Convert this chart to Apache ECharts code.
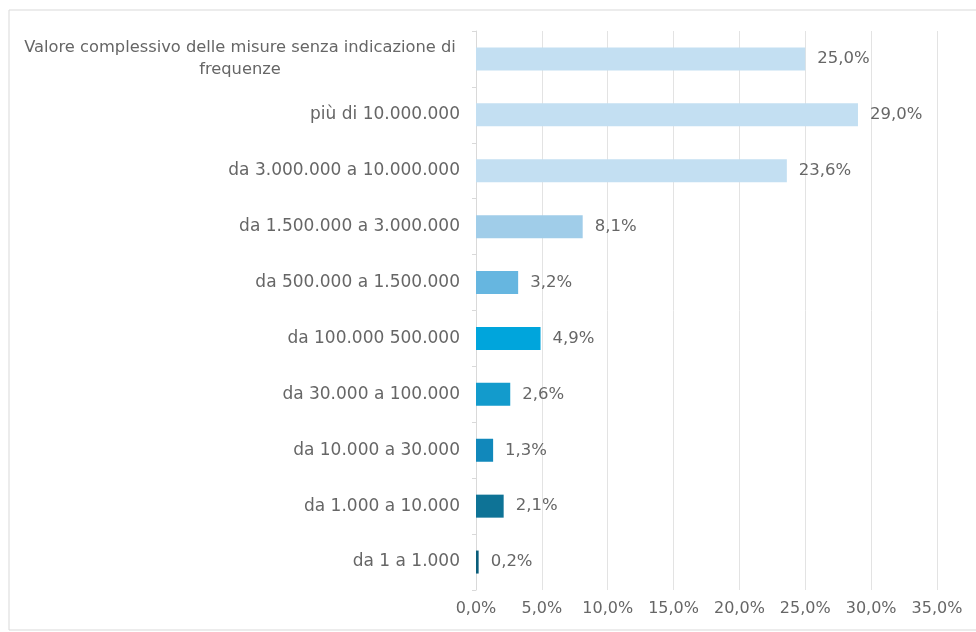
<!DOCTYPE html>
<html>
<head>
<meta charset="utf-8">
<script src="https://cdn.jsdelivr.net/npm/echarts@6/dist/echarts.min.js"></script>
<style>
html,body{margin:0;padding:0;background:#fff;}
#chart{width:976px;height:632px;}
</style>
</head>
<body>
<div id="chart"></div>
<script>
const categories = [
  "Valore complessivo delle misure senza indicazione di frequenze",
  "più di 10.000.000",
  "da 3.000.000 a 10.000.000",
  "da 1.500.000 a 3.000.000",
  "da 500.000 a 1.500.000",
  "da 100.000 500.000",
  "da 30.000 a 100.000",
  "da 10.000 a 30.000",
  "da 1.000 a 10.000",
  "da 1 a 1.000"
];
const values = [25.0, 29.0, 23.6, 8.1, 3.2, 4.9, 2.6, 1.3, 2.1, 0.2];
const barColors = ["#c3dff2", "#c3dff2", "#c3dff2", "#a0cde9", "#66b6e0", "#00a5dc", "#139bcc", "#1188bb", "#0e7396", "#0a5d7a"];
const xTicks = { min: 0, max: 35, interval: 5 };

const fmt = v => v.toFixed(1).replace('.', ',') + '%';
const FONT = 'DejaVu Sans';
const chart = echarts.init(document.getElementById('chart'));
chart.setOption({
  animation: false,
  backgroundColor: '#ffffff',
  graphic: [{
    type: 'rect',
    shape: { x: 9, y: 10, width: 1000, height: 620 },
    style: { fill: 'none', stroke: '#d9d9d9', lineWidth: 1 },
    silent: true, z: -10
  }],
  grid: { left: 476, right: 39, top: 31, bottom: 42, containLabel: false },
  xAxis: {
    type: 'value',
    min: xTicks.min, max: xTicks.max, interval: xTicks.interval,
    axisLine: { show: false },
    axisTick: { show: false },
    splitLine: { lineStyle: { color: '#e3e3e3', width: 1 } },
    axisLabel: { formatter: v => fmt(v), color: '#666666', fontFamily: FONT, fontSize: 16, margin: 11 }
  },
  yAxis: {
    type: 'category',
    inverse: true,
    data: categories,
    axisLine: { show: true, lineStyle: { color: '#d9d9d9' } },
    axisTick: { show: true, length: 4, lineStyle: { color: '#d9d9d9' } },
    axisLabel: {
      color: '#666666', fontFamily: FONT, fontSize: 17, margin: 16, lineHeight: 22,
      formatter: (v, i) => i === 0
        ? '{c|Valore complessivo delle misure senza indicazione di}\n{c|frequenze}'
        : v,
      rich: { c: { width: 440, align: 'center', color: '#666666', fontFamily: FONT, fontSize: 16.3, lineHeight: 22 } }
    }
  },
  series: [{
    type: 'bar',
    data: values.map((v, i) => ({ value: v, itemStyle: { color: barColors[i] } })),
    barWidth: 23,
    label: {
      show: true, position: 'right', distance: 12,
      formatter: p => fmt(p.value),
      color: '#666666', fontFamily: FONT, fontSize: 16.5
    }
  }]
});
</script>
</body>
</html>
